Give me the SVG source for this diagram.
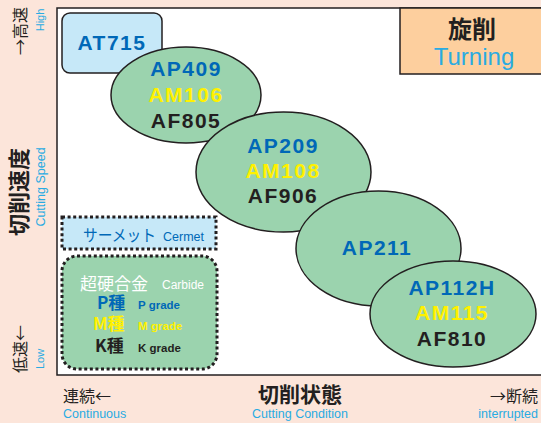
<svg xmlns="http://www.w3.org/2000/svg" width="541" height="423" viewBox="0 0 541 423">
<style>
.lat{font-family:"Liberation Sans",Arial,sans-serif}
.cjk{font-family:"Noto Sans CJK JP","Liberation Sans",sans-serif}
.g{font-family:"Liberation Sans",Arial,sans-serif;font-weight:bold;font-size:21px;letter-spacing:1.5px;text-anchor:middle}
.blue{fill:#0068b7}.yel{fill:#fff100}.blk{fill:#231f20}.cyan{fill:#29abe2}
.ell{fill:#9bd3ae;stroke:#231f20;stroke-width:1.5}
.dot{stroke:#231f20;stroke-width:3;stroke-dasharray:3 2.6}
</style>
<rect x="0" y="0" width="541" height="423" fill="#fce5da"/>
<rect id="plot" x="57" y="8" width="490" height="367" fill="#ffffff" stroke="#231f20" stroke-width="1.5"/>
<g id="axis-y">
<text class="cjk blk" font-size="16" text-anchor="middle" transform="translate(26,31) rotate(-90)">→高速</text>
<text class="lat cyan" font-size="11" text-anchor="middle" transform="translate(44,20) rotate(-90)">High</text>
<text class="cjk blk" font-size="22" font-weight="bold" text-anchor="middle" transform="translate(27,192) rotate(-90)">切削速度</text>
<text class="lat cyan" font-size="12.5" text-anchor="middle" transform="translate(45,187) rotate(-90)">Cutting Speed</text>
<text class="cjk blk" font-size="16" text-anchor="middle" transform="translate(26,349) rotate(-90)">低速←</text>
<text class="lat cyan" font-size="11" text-anchor="middle" transform="translate(44,359) rotate(-90)">Low</text>
</g>
<g id="axis-x">
<text class="cjk blk" font-size="16" x="63" y="402">連続←</text>
<text class="lat cyan" font-size="12.5" x="63" y="418">Continuous</text>
<text class="cjk blk" font-size="21" font-weight="bold" x="300" y="402" text-anchor="middle">切削状態</text>
<text class="lat cyan" font-size="12.5" x="300" y="418" text-anchor="middle">Cutting Condition</text>
<text class="cjk blk" font-size="16" x="538" y="402" text-anchor="end">→断続</text>
<text class="lat cyan" font-size="12.5" x="538" y="418" text-anchor="end">interrupted</text>
</g>
<g id="turning">
<rect x="400" y="8" width="150" height="66" fill="#fdcf9e" stroke="#231f20" stroke-width="1.5"/>
<text class="cjk blk" font-size="24" font-weight="bold" x="472" y="38" text-anchor="middle">旋削</text>
<text class="lat cyan" font-size="24" x="474" y="65" text-anchor="middle">Turning</text>
</g>
<g id="at715">
<rect x="62" y="13" width="100" height="60" rx="8" fill="#c6e8f8" stroke="#231f20" stroke-width="1.5"/>
<text class="g blue" x="112" y="50" letter-spacing="2.5">AT715</text>
</g>
<g id="e1">
<ellipse class="ell" cx="186" cy="95" rx="75" ry="48"/>
<text class="g blue" x="186" y="76">AP409</text>
<text class="g yel" x="186" y="102">AM106</text>
<text class="g blk" x="186" y="128">AF805</text>
</g>
<g id="e2">
<ellipse class="ell" cx="283.5" cy="172" rx="87.5" ry="60"/>
<text class="g blue" x="283" y="153">AP209</text>
<text class="g yel" x="283" y="178">AM108</text>
<text class="g blk" x="283" y="203">AF906</text>
</g>
<g id="e3">
<ellipse class="ell" cx="378.5" cy="248.5" rx="82.5" ry="57.5"/>
<text class="g blue" x="377" y="255">AP211</text>
</g>
<g id="e4">
<ellipse class="ell" cx="453" cy="314" rx="83" ry="53"/>
<text class="g blue" x="452" y="295">AP112H</text>
<text class="g yel" x="452" y="320">AM115</text>
<text class="g blk" x="452" y="346">AF810</text>
</g>
<g id="cermet">
<rect class="dot" x="62" y="217" width="154" height="32" fill="#c6e8f8"/>
<text class="cjk blue" font-size="16" x="83" y="241" textLength="73" lengthAdjust="spacingAndGlyphs">サーメット</text>
<text class="lat blue" font-size="12.5" x="163" y="241">Cermet</text>
</g>
<g id="carbide">
<rect class="dot" x="62" y="256" width="155" height="113" rx="15" fill="#9bd3ae"/>
<text class="cjk" fill="#ffffff" font-size="17" x="80" y="290">超硬合金</text>
<text class="lat" fill="#ffffff" font-size="12" x="162" y="289">Carbide</text>
<text class="cjk blue" font-size="17" font-weight="bold" x="97" y="309">P種</text>
<text class="lat blue" font-size="11.5" font-weight="bold" x="138" y="309">P grade</text>
<text class="cjk yel" font-size="17" font-weight="bold" x="93" y="330">M種</text>
<text class="lat yel" font-size="11.5" font-weight="bold" x="138" y="330">M grade</text>
<text class="cjk blk" font-size="17" font-weight="bold" x="95" y="352">K種</text>
<text class="lat blk" font-size="11.5" font-weight="bold" x="138" y="352">K grade</text>
</g>
</svg>
